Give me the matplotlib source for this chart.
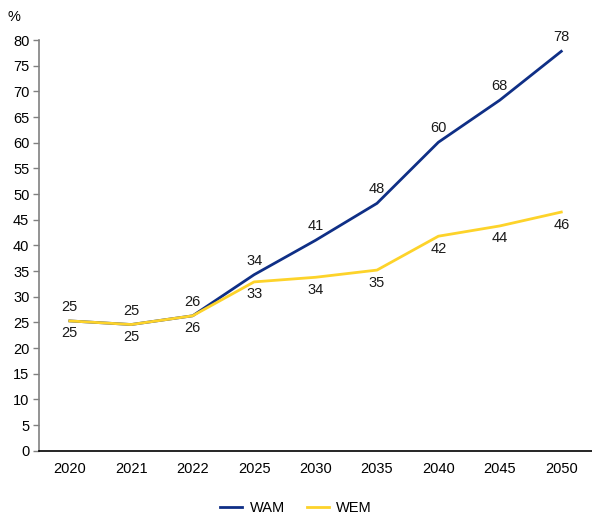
import matplotlib.pyplot as plt

plt.rcParams['font.family'] = ['Liberation Sans', 'DejaVu Sans']

years = ['2020', '2021', '2022', '2025', '2030', '2035', '2040', '2045', '2050']
wam = [25.3, 24.6, 26.3, 34.3, 41.0, 48.2, 60.1, 68.3, 77.8]
wem = [25.3, 24.6, 26.3, 32.9, 33.8, 35.2, 41.8, 43.8, 46.5]
wam_labels = [25, 25, 26, 34, 41, 48, 60, 68, 78]
wem_labels = [25, 25, 26, 33, 34, 35, 42, 44, 46]

navy = '#0F2F86'
yellow = '#FDD32A'
fs = 10.5

fig = plt.figure(figsize=(5.92, 5.2), dpi=100)
ax = fig.add_axes([0.066, 0.133, 0.934, 0.79])

x = range(len(years))
ax.plot(x, wam, color=navy, lw=2, label='WAM')
ax.plot(x, wem, color=yellow, lw=2, label='WEM')

# data labels: WAM above, WEM below
for i in x:
    ax.annotate(str(wam_labels[i]), (i, wam[i]), xytext=(0, 5), textcoords='offset points',
                ha='center', va='bottom', fontsize=fs, color='#1a1a1a')
    ax.annotate(str(wem_labels[i]), (i, wem[i]), xytext=(0, -4), textcoords='offset points',
                ha='center', va='top', fontsize=fs, color='#1a1a1a')

ax.set_xlim(-0.5, len(years) - 0.5)
ax.set_ylim(0, 80)
ax.set_yticks(range(0, 81, 5))
ax.set_xticks(list(x))
ax.set_xticklabels(years)
ax.tick_params(axis='x', length=0, pad=8, labelsize=fs)
ax.tick_params(axis='y', length=4, width=1, color='#808080', labelsize=fs, pad=3)

ax.spines['top'].set_visible(False)
ax.spines['right'].set_visible(False)
ax.spines['left'].set_color('#808080')
ax.spines['left'].set_linewidth(1.2)
ax.spines['bottom'].set_color('black')
ax.spines['bottom'].set_linewidth(1.2)

fig.text(0.012, 0.968, '%', fontsize=fs, ha='left', va='center')

fig.legend(loc='center', bbox_to_anchor=(0.5, 0.023), ncol=2, frameon=False,
           fontsize=fs, handlelength=1.5, handletextpad=0.5, columnspacing=1.5)

fig.savefig('out.png', dpi=100)
